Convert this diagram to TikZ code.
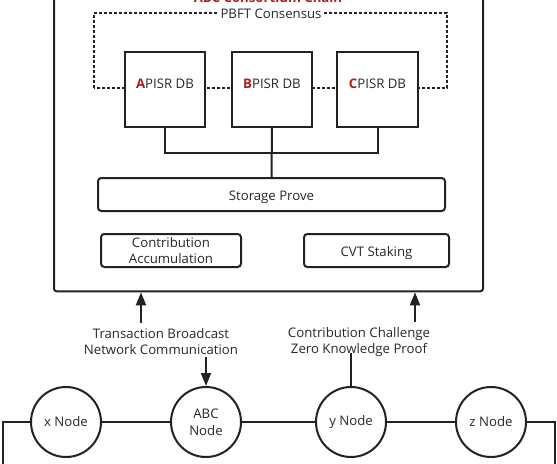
\documentclass[tikz,border=0pt]{standalone}
\usepackage{fontspec}
\setmainfont{Open Sans}
\usetikzlibrary{arrows.meta}
\definecolor{ink}{RGB}{34,34,34}
\definecolor{txt}{RGB}{40,40,40}
\definecolor{dred}{RGB}{170,30,30}
\tikzset{
  x=0.75pt, y=-0.75pt,
  ln/.style={draw=ink, line width=1.5pt},
  box/.style={ln, fill=white, inner sep=0pt},
  rbox/.style={ln, fill=white, rounded corners=2.5pt, inner sep=0pt, align=center, text=txt},
  lowtext/.style={text height=10.8pt, text depth=1.5pt},
  circ/.style={ln, circle, fill=white, minimum size=52.5pt, inner sep=0pt, align=center, text=txt},
  lab/.style={text=txt, align=center, inner sep=0pt},
  arr/.style={ln, -{Triangle[length=9.75pt,width=7.5pt]}},
  dots/.style={draw=ink, line width=1.5pt, dash pattern=on 2.25pt off 1.5pt},
  every node/.append style={font=\fontsize{9.9pt}{12pt}\selectfont}
}
\begin{document}
\begin{tikzpicture}
\useasboundingbox (0,0) rectangle (557,464);
% outer chain box
\node[ln, rounded corners=2pt, minimum width=321.75pt, minimum height=236pt, inner sep=0pt] (chain) at (268.5,134) {};
\node[lab, text=dred, font=\bfseries\fontsize{9.9pt}{12pt}\selectfont, anchor=base] (title) at (268,2.5) {ABC Consortium Chain};
% PBFT dotted loop
\coordinate (p1) at (94,88);
\coordinate (p2) at (447,88);
\draw[dots] (p1) -- (94,13) -- (447,13) -- (p2) -- cycle;
\node[lab, fill=white, inner xsep=1pt, inner ysep=1pt] (pbft) at (271,14) {PBFT Consensus};
% DB boxes
\node[box, minimum width=60pt, minimum height=56.25pt] (A) at (165,89.5) {};
\node[box, minimum width=60pt, minimum height=56.25pt] (B) at (272,89.5) {};
\node[box, minimum width=60.75pt, minimum height=56.25pt] (C) at (377.5,89.5) {};
\node[lab] (At) at (165,84) {\textcolor{dred}{\bfseries A}PISR DB};
\node[lab] (Bt) at (272,84) {\textcolor{dred}{\bfseries B}PISR DB};
\node[lab] (Ct) at (377.5,84) {\textcolor{dred}{\bfseries C}PISR DB};
% storage prove
\node[rbox, lowtext, minimum width=260.25pt, minimum height=24.75pt] (sp) at (271.5,194.5) {Storage Prove};
\coordinate (j) at (272,153);
\draw[ln] (A.south) |- (j) -| (C.south);
\draw[ln] (B.south) -- (sp.north);
% lower boxes
\node[rbox, minimum width=105pt, minimum height=24.75pt] (ca) at (171,250.5) {Contribution\\[0.5pt]Accumulation};
\node[rbox, lowtext, minimum width=108.75pt, minimum height=24.75pt] (cvt) at (376.5,250.5) {CVT Staking};
% labels below chain
\node[lab] (l1) at (161,342) {Transaction Broadcast\\[0pt]Network Communication};
\node[lab] (l2) at (359,342) {Contribution Challenge\\[0pt]Zero Knowledge Proof};
\coordinate (a1) at (141,323);
\coordinate (a2) at (415,322);
\draw[arr] (a1) -- (a1 |- chain.south);
\draw[arr] (a2) -- (a2 |- chain.south);
% nodes
\node[circ] (xn) at (66,422) {x Node};
\node[circ] (abc) at (206,422) {ABC\\[1pt]Node};
\node[circ] (yn) at (351,422) {y Node};
\node[circ] (zn) at (491,422) {z Node};
\coordinate (a3) at (206,357);
\coordinate (a4) at (351,353);
\draw[arr] (a3) -- (abc.north);
\draw[ln] (a4) -- (yn.north);
\draw[ln] (xn) -- (abc);
\draw[ln] (abc) -- (yn);
\draw[ln] (yn) -- (zn);
\coordinate (bl) at (3,475);
\coordinate (br) at (555,475);
\draw[ln] (xn.west) -| (bl);
\draw[ln] (zn.east) -| (br);
\end{tikzpicture}
\end{document}
